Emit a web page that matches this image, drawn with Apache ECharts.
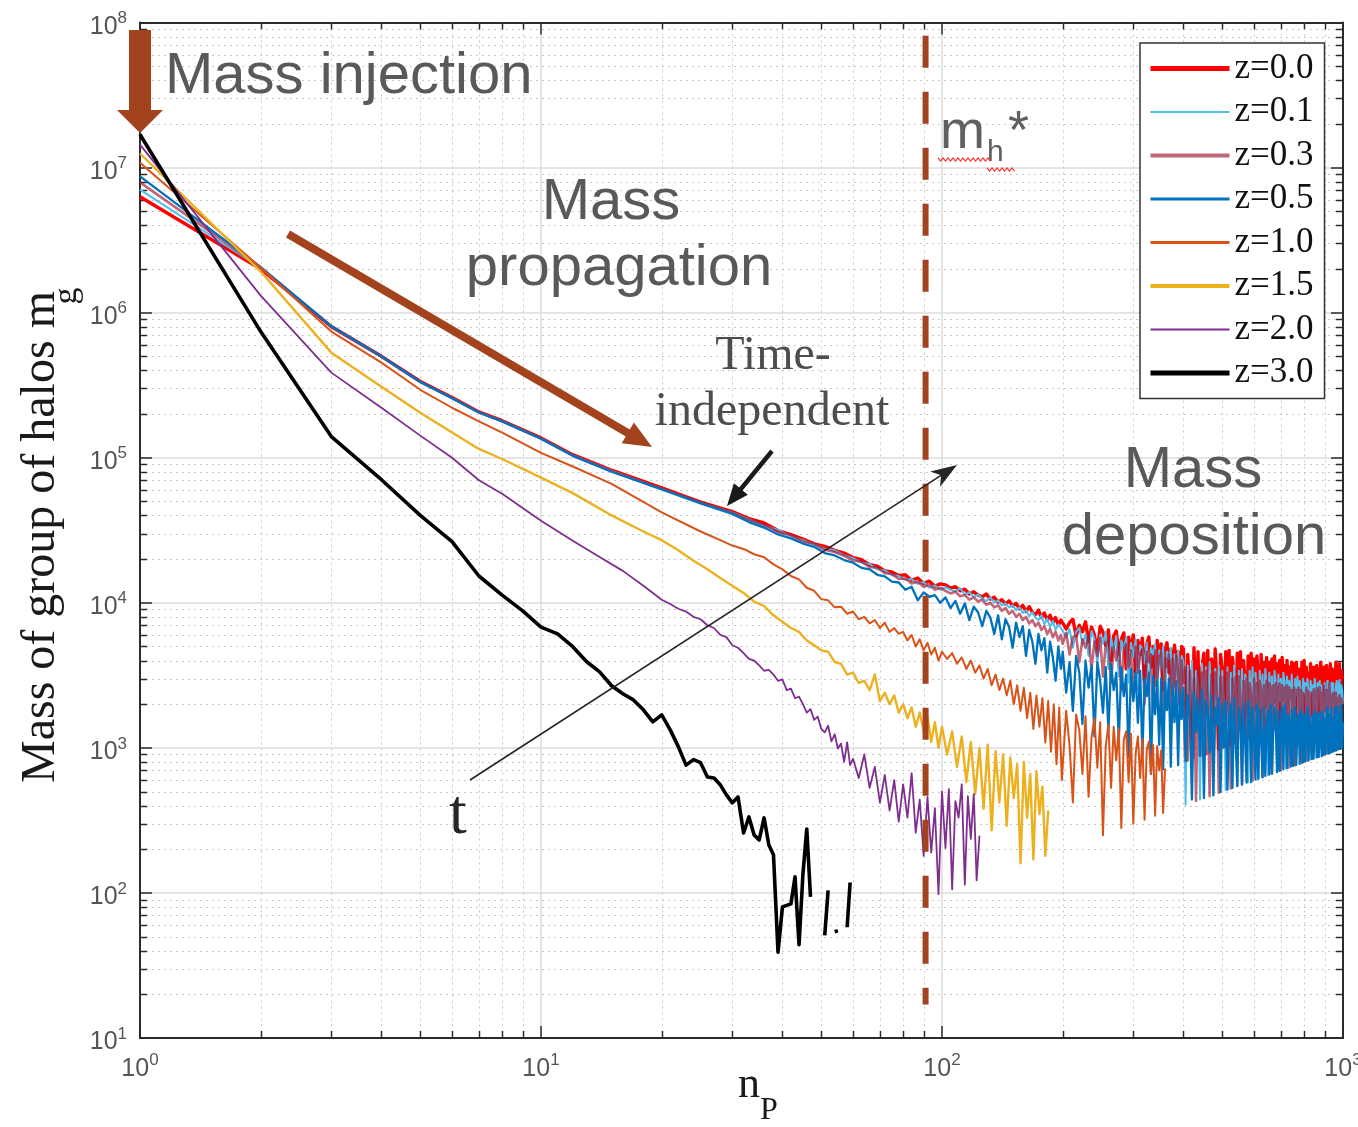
<!DOCTYPE html>
<html>
<head>
<meta charset="utf-8">
<title>Mass of group of halos vs n_p</title>
<script src="https://cdn.jsdelivr.net/npm/echarts/dist/echarts.min.js"></script>
<style>
  html, body { margin: 0; padding: 0; background: #ffffff; overflow: hidden; }
  #chart { width: 1358px; height: 1127px; }
</style>
</head>
<body>
<div id="chart"></div>
<script>
// ---- data: mass of group of halos m_g against particle number n_p ----
const seriesNames = ['z=0.0', 'z=0.1', 'z=0.3', 'z=0.5', 'z=1.0', 'z=1.5', 'z=2.0', 'z=3.0'];

// n_p samples shared by the four low-redshift curves
const npTop = [1,2,3,4,5,6,7,8,10,12,15,20,25,30,
  33,36,39,42,45,48,51,54,57,60,63,66,69,72,75,78,81,84,87,90,93,96,99,
  102,105,108,111,114,117,120,123,126,129,132,135,138,141,144,147,150,153,156,159,162,165,168,171,174,177,180,183,186,189,192,195,198,
  200,204,208,212,216,220,224,228,232,236,240,244,248,252,256,260,264,268,272,276,280,284,288,292,296,300,304,308,312,316,320,324,328,332,336,340,344,348,352,356,360,364,368,372,376,380,384,388,392,396,
  400,405,410,415,420,425,430,435,440,445,450,455,460,465,470,475,480,485,490,495,
  500,505,510,515,520,525,530,535,540,545,550,555,560,565,570,575,580,585,590,595,
  600,605,610,615,620,625,630,635,640,645,650,655,660,665,670,675,680,685,690,695,
  700,705,710,715,720,725,730,735,740,745,750,755,760,765,770,775,780,785,790,795,
  800,805,810,815,820,825,830,835,840,845,850,855,860,865,870,875,880,885,890,895,
  900,905,910,915,920,925,930,935,940,945,950,955,960,965,970,975,980,985,990,995,1000];

const mgZ00 = [6300000,2000000,800000,500000,335000,260000,207000,180000,137000,105000,82000,62000,49500,42500,
  38000,35500,31500,29500,27500,25500,24500,23000,22000,20500,19800,18300,17900,16600,16300,15400,15600,14300,14800,13600,14100,13000,13500,
  13300,12600,12900,12100,12400,11500,11900,11300,11000,11500,10600,10900,10100,10500,9800,10300,9500,9900,9100,9600,8700,9400,8600,8300,8900,7900,8500,7600,8200,7300,7900,7000,7600,
  7800,6600,7300,7700,5900,7000,6300,7400,5400,6800,6000,4600,6900,6300,5100,6500,4000,5900,6400,4400,
  5600,6200,3500,5800,4700,6000,3300,5500,4400,5700,2900,5200,5800,3600,5000,2700,5500,4200,5200,2500,
  4700,5300,3300,4800,2300,5100,3800,4600,2000,5000,
  4800,810,4400,2500,840,4900,1720,4600,880,3600,
  4500,910,4700,1860,4100,950,4800,2900,980,4400,
  3500,1010,4600,2060,4700,1050,4200,3200,1080,4500,
  2200,4600,1120,4000,2850,1150,4300,1170,4500,2380,
  4100,1210,4300,3100,1240,4400,1890,3900,1280,4200,
  1300,3900,2640,4100,1340,4300,2040,3800,1380,4000,
  1400,4200,2130,3700,1440,4000,2920,3600,1480,3900,
  1500,3800,2280,3900,1540,3500,3120,1570,3900,2390,
  4000,1610,3600,2450,3300,1650,3800,2500,1680,3600,
  3400,1710,3700,2600,3500,1750,3900,1770,3600,2690,
  3600,1810,3700,2750,3400,1850,3800,1870,3500,2840,
  3300,1910,3900,2900,3600,1950,3800,1970,3400,2990,
  3000];

const mgZ01 = [7050000,2030000,805000,500000,335000,258000,206000,179000,136000,104000,81000,61000,49000,42000,
  37500,34000,31800,28800,27000,25200,23600,23000,21300,20300,18900,18500,17000,16700,15500,15300,14400,14600,13500,13900,12700,13200,12300,
  12800,12300,12000,12600,11400,11800,11000,11400,10700,10300,10900,10000,10400,9600,9900,9300,9600,8900,9300,8500,8900,8100,8600,7900,7600,8200,7100,7800,6800,7500,6500,7100,6700,
  6900,5800,6600,4900,6300,6700,5200,6100,4300,6400,
  5600,3800,6000,5200,6300,3500,5700,4600,5900,3100,
  5500,4800,5800,2800,5300,4200,5600,2500,5100,4800,
  3800,5300,2300,4900,4400,5200,2000,4700,3500,5000,
  1800,4600,4100,4900,2200,4400,3000,4700,1570,4300,
  3900,405,3700,1660,4000,850,3400,2610,440,3800,
  1350,3600,920,3900,2350,475,3500,1455,3700,990,
  3400,2020,510,3600,1560,3300,1060,3700,2700,545,
  3400,1665,3500,1130,3200,2880,580,3400,1770,3600,
  1200,3300,2440,615,3400,1875,3200,1270,3500,2580,
  650,3300,1980,3100,1340,3400,2720,685,3200,2085,
  3000,1410,3300,2860,720,3100,2190,2900,1480,3200,
  2250,755,3000,2295,3100,1550,2900,2355,790,3000,
  2400,2800,1620,3000,2460,825,2900,2505,2700,1690,
  3000,2565,860,2800,2610,2900,1760,2700,2670,895,
  2800,2715,1820,2900,2760,925,2700,2805,1880,2800,
  2850,955,2700,2895,1940,2600,2940,985,2700,2500,
  2000];

const mgZ03 = [7900000,2050000,810000,502000,336000,259000,206000,179000,136000,104000,80500,61000,49500,41800,
  37200,34600,30800,29300,26400,25600,23200,22400,21100,19600,19200,17600,17500,16000,15800,14600,14700,13600,14000,12900,13300,12300,12700,
  12100,11600,11900,11100,11300,10500,10900,10200,10500,9700,10000,9300,9600,8800,9200,8400,8800,8000,8400,7600,8000,7200,7600,6900,7300,6500,6900,6100,6600,5800,6300,5500,6000,
  5200,6200,4400,5800,6000,3900,5600,4900,5900,3500,
  5400,4300,5700,3100,5200,5500,2800,5000,4000,5300,
  2500,4900,5200,3600,4700,2200,5000,3300,4500,4800,
  2000,4600,3900,4400,1750,4700,3000,4300,4500,1430,
  4200,3600,4400,1480,4100,2660,4300,3500,1950,4000,
  2800,3600,820,3400,1260,3000,430,3500,1760,3300,
  900,3400,2300,465,3200,1425,3300,2425,490,3100,
  1500,3100,1020,3300,2080,525,3000,1605,3100,1090,
  3100,2220,560,2900,1710,3000,1160,2800,2360,595,
  3000,1815,2800,1230,2900,2500,630,2700,1920,2900,
  1300,2800,2640,665,2700,2025,2800,1370,2600,2780,
  700,2700,2130,2600,1440,2700,730,2600,2220,2500,
  1500,2600,760,2500,2310,2600,1560,2500,790,2400,
  2400,1610,2600,815,2460,2500,1660,2400,840,2535,
  2400,1710,2580,865,2400,2625,1760,2400,890,2685,
  2300,1810,2500,915,2300,2775,1860,2300,940,2400,
  2300,1910,2400,965,2200,1950,2300,985,2200,1990,
  2100];

const mgZ05 = [8700000,2060000,805000,498000,333000,257000,205000,178000,135000,103000,80000,60500,48500,41000,
  36000,33000,29600,27800,25600,24300,22000,21200,19700,18900,17400,17000,15600,15200,14000,13800,12300,12900,10400,11800,11000,11300,10000,
  10900,9200,10300,8400,9900,7600,9400,8600,6900,8800,7900,6100,8200,5600,7700,6800,4900,7300,5800,6900,4300,6500,5400,3800,6100,4700,5700,3300,5400,4200,2900,5000,3500,
  4600,2400,3900,1800,4300,3300,1460,4000,2600,3700,
  1200,3900,2900,1740,3600,1300,3800,2500,3300,1110,
  3600,2270,3200,860,3500,2100,3300,1490,3400,890,
  3000,2270,3300,660,3100,1700,2900,1050,3000,710,
  2800,1820,3000,740,2700,1500,2900,760,2500,1580,
  2600,810,2300,1720,440,2400,1290,2200,880,2500,
  450,2100,1830,930,2300,470,1900,1440,2200,495,
  2000,1010,2100,515,1560,2000,530,2200,1080,545,
  1900,1650,560,2000,1130,575,2100,1740,580,1900,
  1210,605,2000,610,1850,1250,625,1900,640,1300,
  1800,655,1990,665,1340,1900,1350,680,1800,695,
  1400,1900,710,2000,1440,725,1700,1460,740,1800,
  750,1510,1900,765,1540,1700,775,1800,1570,795,
  1700,805,1620,1900,820,1650,1700,835,1680,845,
  1800,1710,860,1700,865,1750,1800,875,1770,895,
  1600,905,1820,1900,915,1700,925,1860,935,1600,
  950,1910,960,1800,1930,975,1700,985,1970,995,
  1500];

const npZ10 = [1,2,3,4,5,6,7,8,10,12,15,20,25,
  28,30,32,34,36,38,40,42,44,46,48,50,52,54,56,58,60,62,64,66,68,70,72,74,76,78,80,82,84,86,88,90,92,94,96,98,100,
  103,106,109,112,115,118,121,124,127,130,133,136,139,142,145,148,151,154,157,160,163,166,169,172,175,178,181,184,187,190,193,196,199,
  204,208,212,216,220,224,228,232,236,240,244,248,252,256,260,264,268,272,276,280,284,288,292,296,300,304,308,312,316,320,324,328,332,336,340,344,348,352,356,360];
const mgZ10 = [10800000,2050000,740000,452000,294000,221000,178000,149000,108000,87000,66000,42000,31000,
  27000,24800,23500,21600,20600,18400,17000,15300,14500,12700,12100,10600,10400,9300,9400,8400,8700,7700,8000,7200,7600,6700,7300,6300,6700,6100,6300,5500,6000,5000,5600,4700,5300,4400,4900,4000,4600,
  4100,4500,3800,4200,3500,4000,3300,3700,3000,3500,2700,3200,2500,3000,2300,2900,2000,2700,1800,2600,1600,2400,1350,2300,1400,2200,1090,2100,940,2000,770,1900,600,
  1800,1040,420,1700,1320,660,1650,460,1180,1600,730,1500,250,1020,1450,530,1400,820,1350,280,
  1140,1300,580,1250,300,910,1200,620,1150,320,970,1100,660,1050,340,1030,700,960,356,720];

const npZ15 = [1,2,3,4,5,6,7,8,10,12,15,18,
  20,22,24,26,28,30,32,34,36,38,40,42,44,46,48,50,52,54,56,58,60,62,64,66,68,70,72,74,76,78,80,82,84,86,88,90,92,94,96,98,100,
  103,106,109,112,115,118,121,124,127,130,133,136,139,142,145,148,151,154,157,160,163,166,169,172,175,178,181,184];
const mgZ15 = [12500000,1920000,530000,309000,204000,149000,115000,98000,73000,57000,40000,31000,
  27000,23000,19500,17000,14800,13100,11700,10200,9500,8200,7400,6700,6300,5500,5100,4700,4600,3900,3800,3200,3300,2800,2900,2500,3200,2100,2400,2000,2300,1750,2000,1600,1900,1400,1750,1300,1650,1100,1500,1000,1400,
  900,1300,740,1200,580,1100,480,1000,380,1050,270,950,420,900,290,860,450,770,160,800,330,660,170,690,350,540,180,370];

const npZ20 = [1,2,3,4,5,6,7,8,10,12,14,16,18,20,
  21,22,23,24,25,26,27,28,29,30,31,32,33,34,35,36,37,38,39,40,41,42,43,44,45,46,47,48,49,50,51,52,53,54,55,56,57,58,59,60,
  62,64,66,68,70,72,74,76,78,80,82,84,86,88,90,92,94,96,98,100,102,104,106,108,110,112,114,116,118,120,122,124];
const mgZ20 = [14400000,1310000,386000,221000,142000,100000,70000,56500,36800,26800,20700,16600,13100,10500,
  9800,9100,8700,8000,7700,7000,6700,6000,5800,5100,4900,4500,4100,4000,3700,3400,3450,3200,2900,2960,2500,2560,2200,2250,2000,1750,1850,1560,1640,1350,1280,1420,1110,1240,990,1070,800,1090,760,840,
  620,900,530,740,420,650,370,600,310,560,330,670,260,440,180,460,190,384,98,500,204,520,106,430,330,560,114,464,236,480,122,248];

const npZ30 = [1,2,3,4,5,6,7,8,9,10,11,12,13,14,15,16,17,18,19,20,21,22,23,24,25,26,27,28,29,30,
  31,32,33,34,35,36,37,38,39,40,41,42,43,44,45,46,47,48,49,50,51,52,53,54,55,56,57,58,59];
const mgZ30 = [16900000,740000,140000,70500,40000,26400,15300,11300,8800,6800,
  6100,4980,3920,3340,2680,2360,2140,1830,1510,1690,
  1330,1020,760,830,790,630,620,556,474,418,
  459,259,334,251,232,329,214,183,39,80,
  82,84,129,44,135,276,94,null,null,null,
  51,104,null,54,55,null,null,58,118];

// minor tick values of both log axes
const xMinorTicks = [2,3,4,5,6,7,8,9,20,30,40,50,60,70,80,90,200,300,400,500,600,700,800,900];
const yMinorTicks = [20,30,40,50,60,70,80,90,200,300,400,500,600,700,800,900,
  2000,3000,4000,5000,6000,7000,8000,9000,20000,30000,40000,50000,60000,70000,80000,90000,
  200000,300000,400000,500000,600000,700000,800000,900000,2000000,3000000,4000000,5000000,6000000,7000000,8000000,9000000,
  20000000,30000000,40000000,50000000,60000000,70000000,80000000,90000000];

// characteristic halo mass marker m_h* (in n_p) and its vertical extent
const mhStar = 91;
const mhStarSpan = [17, 81000000];

// ---- styling ----
const seriesColors = ['#ff0000', '#4dbeee', '#a2142f', '#0072bd', '#d95319', '#edb120', '#7e2f8e', '#000000'];
const seriesWidths = [3.4, 2.0, 2.6, 2.3, 2.0, 2.4, 1.8, 3.6];
const legendWidths = [5, 2.2, 4, 3, 3, 4, 2, 5];
const seriesOpacity = [1, 1, 0.65, 1, 1, 1, 1, 1];
const axisColor = '#2b2b2b';
const brown = '#a3431d';
const SANS = "'Liberation Sans', Arial, Helvetica, sans-serif";
const SERIF = "'Liberation Serif', 'Times New Roman', Times, serif";

function pairs(nps, mgs) {
  return nps.map(function (n, i) { return [n, mgs[i] == null ? '-' : mgs[i]]; });
}
const curves = [
  pairs(npTop, mgZ00), pairs(npTop, mgZ01), pairs(npTop, mgZ03), pairs(npTop, mgZ05),
  pairs(npZ10, mgZ10), pairs(npZ15, mgZ15), pairs(npZ20, mgZ20), pairs(npZ30, mgZ30)
];

const tickLabelRich = {
  b: { fontSize: 25, lineHeight: 25, fontFamily: SANS, color: '#555555', padding: [9, 0, 0, 0] },
  s: { fontSize: 17, lineHeight: 17, fontFamily: SANS, color: '#555555', verticalAlign: 'top' }
};
function powLabel(v) { return '{b|10}{s|' + Math.round(Math.log10(v)) + '}'; }

function logAxis(extra) {
  return Object.assign({
    type: 'log', logBase: 10,
    axisLine: { show: true, onZero: false, lineStyle: { color: axisColor, width: 2 } },
    axisTick: { show: true, inside: true, length: 12, lineStyle: { color: axisColor, width: 1.5 } },
    splitLine: { show: false },
    minorTick: { show: false }, minorSplitLine: { show: false }
  }, extra);
}

// dotted minor grid plus the small inward minor ticks on all four sides
function minorRenderer(isX) {
  return function (params, api) {
    const cs = params.coordSys;
    const children = [];
    if (isX) {
      const x = Math.round(api.coord([api.value(0), 1000])[0]) + 0.5;
      children.push({ type: 'line', shape: { x1: x, y1: cs.y, x2: x, y2: cs.y + cs.height },
        style: { stroke: '#c9c9c9', lineWidth: 1, lineDash: [2, 4] } });
      children.push({ type: 'line', shape: { x1: x, y1: cs.y + cs.height, x2: x, y2: cs.y + cs.height - 7 },
        style: { stroke: axisColor, lineWidth: 1.5 } });
      children.push({ type: 'line', shape: { x1: x, y1: cs.y, x2: x, y2: cs.y + 7 },
        style: { stroke: axisColor, lineWidth: 1.5 } });
    } else {
      const y = Math.round(api.coord([10, api.value(1)])[1]) + 0.5;
      children.push({ type: 'line', shape: { x1: cs.x, y1: y, x2: cs.x + cs.width, y2: y },
        style: { stroke: '#c9c9c9', lineWidth: 1, lineDash: [2, 4] } });
      children.push({ type: 'line', shape: { x1: cs.x, y1: y, x2: cs.x + 7, y2: y },
        style: { stroke: axisColor, lineWidth: 1.5 } });
      children.push({ type: 'line', shape: { x1: cs.x + cs.width, y1: y, x2: cs.x + cs.width - 7, y2: y },
        style: { stroke: axisColor, lineWidth: 1.5 } });
    }
    return { type: 'group', children: children };
  };
}

const lineSeries = seriesNames.map(function (name, i) {
  return {
    name: name, type: 'line', data: curves[i],
    xAxisIndex: 0, yAxisIndex: 0,
    symbol: 'none', showSymbol: false, smooth: false, connectNulls: false,
    silent: true, emphasis: { disabled: true }, z: 3,
    lineStyle: { color: seriesColors[i], width: seriesWidths[i], opacity: seriesOpacity[i], join: 'round' },
    itemStyle: { color: seriesColors[i] }
  };
});

// wavy spell-check underline drawn under the m_h label
function wavy(x0, x1, y, amp, step) {
  const pts = [];
  let up = true;
  for (let x = x0; x <= x1; x += step / 2) { pts.push([x, up ? y - amp : y + amp]); up = !up; }
  return pts;
}

function txt(x, y, text, font, size, fill, align, extra) {
  return Object.assign({
    type: 'text', x: x, y: y, z: 100,
    style: { text: text, fontFamily: font, fontSize: size, fill: fill, align: align || 'center', verticalAlign: 'middle' }
  }, extra || {});
}

const annotations = [
  // mass injection arrow
  { type: 'polygon', z: 100, shape: { points: [[129,30],[151,30],[151,110],[163,110],[140,133],[117,110],[129,110]] }, style: { fill: brown } },
  // mass propagation arrow
  { type: 'polygon', z: 100, shape: { points: [[290.0,230.5],[629.8,429.4],[633.9,422.5],[652,447],[621.7,443.3],[625.8,436.4],[286.0,237.5]] }, style: { fill: brown } },
  // time-independent pointer
  { type: 'polygon', z: 100, shape: { points: [[770.3,449.6],[739.2,487.6],[733.9,483.3],[727,506],[747.9,494.7],[742.6,490.4],[773.7,452.4]] }, style: { fill: '#1a1a1a' } },
  // time arrow
  { type: 'line', z: 100, shape: { x1: 470, y1: 780, x2: 941, y2: 475.3 }, style: { stroke: '#262626', lineWidth: 1.6 } },
  { type: 'polygon', z: 100, shape: { points: [[957,465],[940.1,486.7],[941,475.3],[930.3,471.5]] }, style: { fill: '#262626' } },

  txt(165, 77, 'Mass injection', SANS, 58, '#595959', 'left'),
  txt(611, 203, 'Mass', SANS, 58, '#595959'),
  txt(619, 269, 'propagation', SANS, 58, '#595959'),
  txt(1193, 471, 'Mass', SANS, 58, '#595959'),
  txt(1194, 538, 'deposition', SANS, 58, '#595959'),
  txt(773, 356, 'Time-', SERIF, 48, '#4d4d4d'),
  txt(772, 412, 'independent', SERIF, 48, '#4d4d4d'),
  txt(458, 816, 't', SERIF, 64, '#262626'),

  // m_h* label
  txt(940, 133, 'm', SANS, 54, '#606060', 'left'),
  txt(987, 153, 'h', SANS, 30, '#606060', 'left'),
  txt(1008, 133, '*', SANS, 54, '#606060', 'left'),
  { type: 'polyline', z: 100, shape: { points: wavy(938, 991, 159.5, 1.6, 5) }, style: { stroke: '#ff3030', lineWidth: 1.2, fill: null } },
  { type: 'polyline', z: 100, shape: { points: wavy(987, 1015, 169.5, 1.6, 5) }, style: { stroke: '#ff3030', lineWidth: 1.2, fill: null } },

  // axis titles
  txt(41, 537, 'Mass of group of halos m', SERIF, 48, '#1a1a1a', 'center', { rotation: Math.PI / 2 }),
  txt(67, 296, 'g', SERIF, 34, '#1a1a1a', 'center', { rotation: Math.PI / 2 }),
  txt(749, 1085, 'n', SERIF, 44, '#1a1a1a'),
  txt(760, 1111, 'P', SERIF, 32, '#1a1a1a', 'left')
];

const chart = echarts.init(document.getElementById('chart'), null, { renderer: 'canvas', devicePixelRatio: 1 });

chart.setOption({
  animation: false,
  backgroundColor: '#ffffff',
  grid: { left: 140, right: 15, top: 22.5, bottom: 89, containLabel: false, outerBoundsMode: 'none' },
  xAxis: [
    logAxis({
      min: 1, max: 1000, position: 'bottom', splitNumber: 3,
      axisLabel: { show: true, formatter: powLabel, rich: tickLabelRich, margin: 14, showMinLabel: true, showMaxLabel: true },
      splitLine: { show: true, lineStyle: { color: '#dcdcdc', width: 1.5 } }
    }),
    logAxis({ min: 1, max: 1000, position: 'top', splitNumber: 3, axisLabel: { show: false } })
  ],
  yAxis: [
    logAxis({
      min: 10, max: 100000000, position: 'left', splitNumber: 7,
      axisLabel: { show: true, formatter: powLabel, rich: tickLabelRich, margin: 13, showMinLabel: true, showMaxLabel: true },
      splitLine: { show: true, lineStyle: { color: '#dcdcdc', width: 1.5 } }
    }),
    logAxis({ min: 10, max: 100000000, position: 'right', splitNumber: 7, axisLabel: { show: false } })
  ],
  legend: {
    orient: 'vertical', left: 1140, top: 43,
    padding: [8, 11, 8, 8], itemWidth: 79, itemHeight: 14, itemGap: 8.5,
    backgroundColor: '#ffffff', borderColor: '#333333', borderWidth: 1.5, borderRadius: 0,
    selectedMode: false,
    itemStyle: { opacity: 0 },
    textStyle: { fontFamily: SERIF, fontSize: 35, lineHeight: 34, color: '#111111' },
    data: seriesNames.map(function (name, i) {
      return { name: name, lineStyle: { width: legendWidths[i] } };
    })
  },
  series: [
    { type: 'custom', name: 'xMinor', coordinateSystem: 'cartesian2d', xAxisIndex: 0, yAxisIndex: 0, silent: true, z: 1,
      data: xMinorTicks.map(function (v) { return [v, 1000]; }), renderItem: minorRenderer(true) },
    { type: 'custom', name: 'yMinor', coordinateSystem: 'cartesian2d', xAxisIndex: 0, yAxisIndex: 0, silent: true, z: 1,
      data: yMinorTicks.map(function (v) { return [10, v]; }), renderItem: minorRenderer(false) }
  ].concat(lineSeries).concat([
    { type: 'custom', name: 'mhStar', coordinateSystem: 'cartesian2d', xAxisIndex: 0, yAxisIndex: 0, silent: true, z: 6,
      data: [[mhStar, mhStarSpan[0]]],
      renderItem: function (params, api) {
        const top = api.coord([api.value(0), mhStarSpan[1]]);
        const bottom = api.coord([api.value(0), mhStarSpan[0]]);
        return { type: 'line', shape: { x1: top[0], y1: top[1], x2: bottom[0], y2: bottom[1] },
          style: { stroke: brown, lineWidth: 6, lineDash: [32, 24] } };
      } }
  ]),
  graphic: annotations
});
</script>
</body>
</html>
